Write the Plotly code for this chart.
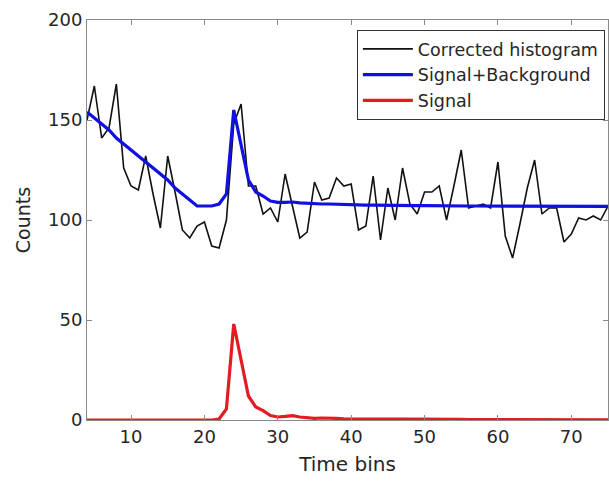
import plotly.graph_objects as go

bins = list(range(4, 76))

corrected_hist = [150, 167, 141, 146, 168, 126, 117, 115, 132, 113,   # 4-13
                  96, 132, 114, 95, 91, 97, 99, 87, 86, 100,           # 14-23
                  148, 158, 117, 117, 103, 106, 99, 123, 107, 91,      # 24-33
                  94, 119, 110, 111, 121, 117, 118, 95, 97, 122,       # 34-43
                  90, 116, 100, 126, 108, 103, 114, 114, 117, 100,     # 44-53
                  117, 135, 106, 107, 108, 106, 129, 92, 81, 98,       # 54-63
                  116, 130, 103, 106, 106, 89, 93, 101, 100, 102,      # 64-73
                  100, 107]                                            # 74-75

signal_bg = [154, 151, 148, 145, 141, 138, 135, 132, 129, 126,        # 4-13
             123, 120, 116, 113, 110, 107, 107, 107, 108, 113,        # 14-23
             155, 137, 120, 114, 112, 109.5, 108.8, 108.8, 109, 108.6,  # 24-33
             108.3, 108, 108, 108, 107.8, 107.6, 107.5, 107.5, 107.4, 107.4,  # 34-43
             107.3, 107.3, 107.3, 107.2, 107.2, 107.2, 107.2, 107.1, 107.1, 107.1,  # 44-53
             107.1, 107, 107, 107, 107, 107, 107, 107, 107, 107,      # 54-63
             107, 106.9, 106.9, 106.9, 106.9, 106.8, 106.8, 106.8, 106.8, 106.8,  # 64-73
             106.8, 106.8]                                            # 74-75

signal = [0, 0, 0, 0, 0, 0, 0, 0, 0, 0,                                # 4-13
          0, 0, 0, 0, 0, 0, 0, 0, 0.5, 5.5,                            # 14-23
          48, 30, 12, 6.5, 4.7, 2.2, 1.5, 1.8, 2.2, 1.5,               # 24-33
          1.0, 0.8, 1.0, 1.0, 0.8, 0.6, 0.6, 0.5, 0.5, 0.5,            # 34-43
          0.5, 0.4, 0.4, 0.4, 0.4, 0.3, 0.3, 0.3, 0.3, 0.3,            # 44-53
          0.3, 0.3, 0.2, 0.2, 0.2, 0.2, 0.2, 0.2, 0.2, 0.2,            # 54-63
          0.2, 0.2, 0.1, 0.1, 0.1, 0.1, 0.1, 0.1, 0.1, 0.1,            # 64-73
          0.1, 0.1]                                                    # 74-75

x_ticks = [10, 20, 30, 40, 50, 60, 70]
y_ticks = [0, 50, 100, 150, 200]

FONT = "DejaVu Sans, Liberation Sans, Arial, sans-serif"
TXT = "#262626"
AX = "#8a8a8a"

fig = go.Figure()
fig.add_trace(go.Scatter(x=bins, y=corrected_hist, mode="lines",
                         name="Corrected histogram",
                         line=dict(color="#111111", width=1.6)))
fig.add_trace(go.Scatter(x=bins, y=signal_bg, mode="lines",
                         name="Signal+Background",
                         line=dict(color="#1010e0", width=3.2)))
fig.add_trace(go.Scatter(x=bins, y=signal, mode="lines",
                         name="Signal",
                         line=dict(color="#e31b23", width=3.2)))

fig.update_layout(
    width=609, height=485,
    margin=dict(l=87, r=1, t=20, b=65, autoexpand=False),
    paper_bgcolor="white", plot_bgcolor="white",
    font=dict(family=FONT, color=TXT, size=18),
    showlegend=True,
    legend=dict(x=0.994, y=0.975, xanchor="right", yanchor="top",
                bgcolor="white", bordercolor="#333333", borderwidth=1,
                font=dict(family=FONT, size=17.5, color=TXT),
                itemwidth=50, tracegroupgap=0),
)
fig.update_xaxes(
    range=[4, 75], tickvals=x_ticks, ticktext=[str(v) for v in x_ticks],
    ticks="inside", ticklen=5, tickcolor=AX, showline=True, linecolor=AX,
    linewidth=1, mirror="ticks", showgrid=False, zeroline=False,
    tickfont=dict(size=18, color=TXT), automargin=False,
    title=dict(text="Time bins", font=dict(size=20, color=TXT), standoff=11),
)
fig.update_yaxes(
    range=[0, 200], tickvals=y_ticks, ticktext=[str(v) for v in y_ticks],
    ticks="inside", ticklen=5, tickcolor=AX, showline=True, linecolor=AX,
    linewidth=1, mirror="ticks", showgrid=False, zeroline=False,
    tickfont=dict(size=18, color=TXT), automargin=False,
    title=dict(text="Counts", font=dict(size=19, color=TXT), standoff=12),
)

fig.write_html("out.html", config={"displayModeBar": False},
               post_script="document.body.style.margin='0';")
